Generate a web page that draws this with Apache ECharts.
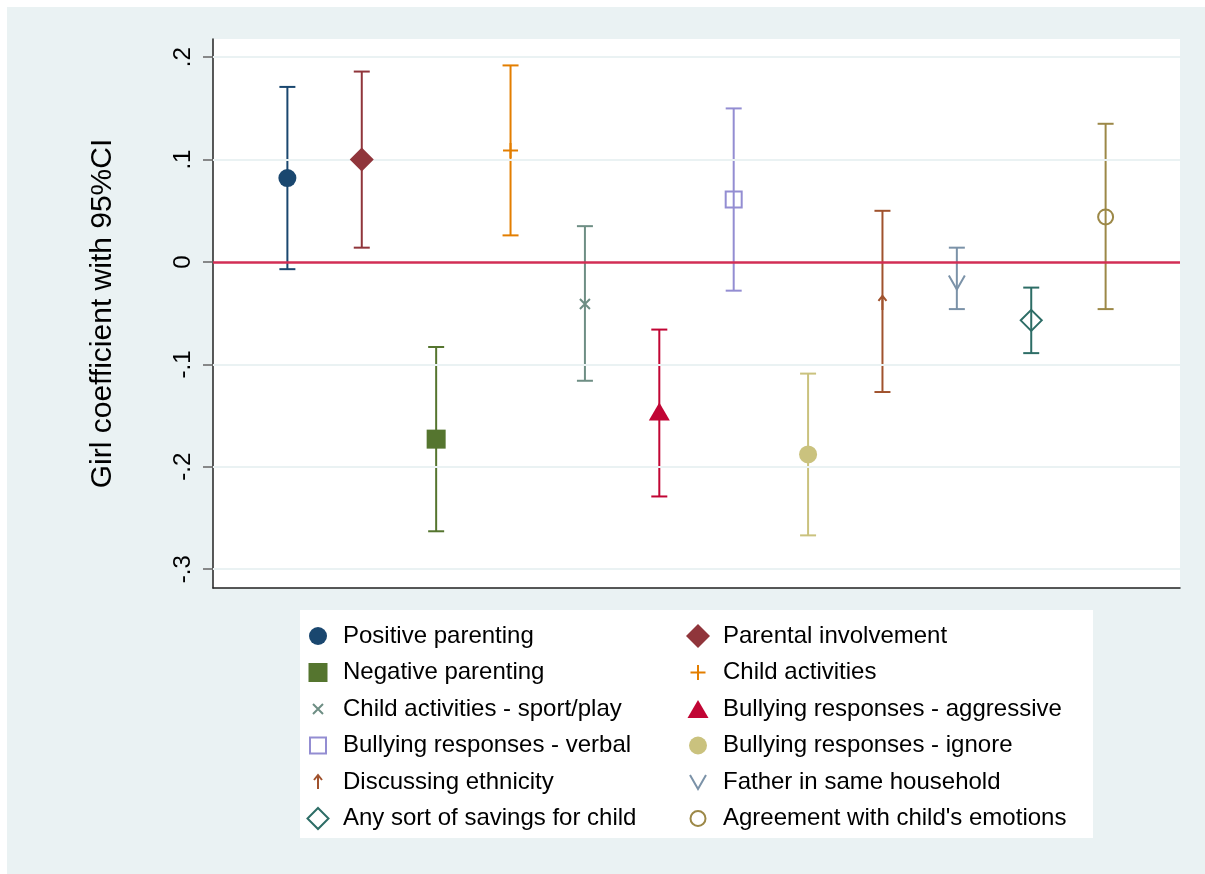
<!DOCTYPE html>
<html>
<head>
<meta charset="utf-8">
<script src="https://cdn.jsdelivr.net/npm/echarts@6/dist/echarts.min.js"></script>
<style>
  html, body { margin: 0; padding: 0; background: #ffffff; }
  #chart { position: absolute; left: 7px; top: 7px; width: 1198px; height: 867px; }
</style>
</head>
<body>
<div id="chart"></div>
<script>
// ---- data ----
const categories = [
  'Positive parenting', 'Parental involvement', 'Negative parenting', 'Child activities',
  'Child activities - sport/play', 'Bullying responses - aggressive', 'Bullying responses - verbal',
  'Bullying responses - ignore', 'Discussing ethnicity', 'Father in same household',
  'Any sort of savings for child', "Agreement with child's emotions"
];
const estimates = [0.082, 0.100, -0.173, 0.109, -0.041, -0.146, 0.061, -0.188, -0.040, -0.020, -0.057, 0.044];
const lowerCI   = [-0.007, 0.014, -0.263, 0.026, -0.116, -0.229, -0.028, -0.267, -0.127, -0.046, -0.089, -0.046];
const upperCI   = [0.171, 0.186, -0.083, 0.192, 0.035, -0.066, 0.150, -0.109, 0.050, 0.014, -0.025, 0.135];
const tickValues = [-0.3, -0.2, -0.1, 0, 0.1, 0.2];
const tickLabels = ['-.3', '-.2', '-.1', '0', '.1', '.2'];
const yTitle = 'Girl coefficient with 95%CI';

// ---- styles ----
const colors = ['#1a476f', '#90353b', '#55752f', '#e37e00', '#6e8e84', '#c10534',
                '#938dd2', '#cac27e', '#a0522d', '#7b92a8', '#2d6d66', '#9c8847'];
const PAD = 'M0,0L0,0M26,26L26,26';
const shapes = [
  { p: 'M4,13A9,9,0,1,1,22,13A9,9,0,1,1,4,13Z', fill: true },          // filled circle
  { p: 'M13,1L25,13L13,25L1,13Z', fill: true },                          // filled diamond
  { p: 'M3.5,3.5L22.5,3.5L22.5,22.5L3.5,22.5Z', fill: true },            // filled square
  { p: 'M5.5,13L20.5,13M13,5.5L13,20.5', fill: false },                  // plus
  { p: 'M8,8L18,18M18,8L8,18', fill: false },                            // x
  { p: 'M13,4L23.5,22L2.5,22Z', fill: true },                            // triangle
  { p: 'M5,5L21,5L21,21L5,21Z', fill: false },                           // hollow square
  { p: 'M4,13A9,9,0,1,1,22,13A9,9,0,1,1,4,13Z', fill: true },            // filled circle
  { p: 'M13,20L13,7M9,11L13,6L17,11', fill: false },                     // arrow
  { p: 'M5,6L13,20L21,6', fill: false },                                 // V
  { p: 'M13,2.5L23.5,13L13,23.5L2.5,13Z', fill: false },                 // hollow diamond
  { p: 'M5.5,13A7.5,7.5,0,1,1,20.5,13A7.5,7.5,0,1,1,5.5,13Z', fill: false } // hollow circle
];
const sym = i => 'path://' + PAD + shapes[i].p;

const FONT = '"Liberation Sans", Arial, sans-serif';

const chart = echarts.init(document.getElementById('chart'), null, { renderer: 'canvas' });

const ciData = categories.map((c, i) => [i + 1, lowerCI[i], upperCI[i], i]);

const series = [];
// grid lines
series.push({
  type: 'line', data: [], silent: true, z: 1,
  markLine: {
    silent: true, symbol: 'none', label: { show: false },
    lineStyle: { color: '#eaf2f3', width: 2, type: 'solid' },
    data: tickValues.filter(v => v !== 0).map(v => ({ yAxis: v }))
  }
});
// CI bars
series.push({
  type: 'custom', name: 'CI', silent: true, z: 3,
  data: ciData,
  encode: { x: 0, y: [1, 2] },
  renderItem: function (params, api) {
    const x = api.value(0), lo = api.value(1), hi = api.value(2), idx = api.value(3);
    const pLo = api.coord([x, lo]);
    const pHi = api.coord([x, hi]);
    const hw = 8;
    const style = { stroke: colors[idx], lineWidth: 2, fill: null };
    return {
      type: 'group',
      children: [
        { type: 'line', shape: { x1: pLo[0], y1: pLo[1], x2: pHi[0], y2: pHi[1] }, style: style },
        { type: 'line', shape: { x1: pLo[0] - hw, y1: pLo[1], x2: pLo[0] + hw, y2: pLo[1] }, style: style },
        { type: 'line', shape: { x1: pHi[0] - hw, y1: pHi[1], x2: pHi[0] + hw, y2: pHi[1] }, style: style }
      ]
    };
  }
});
// zero line
series.push({
  type: 'line', data: [], silent: true, z: 4,
  markLine: {
    silent: true, symbol: 'none', label: { show: false },
    lineStyle: { color: '#d22e55', width: 2.5, type: 'solid' },
    data: [{ yAxis: 0 }]
  }
});
// point estimates
categories.forEach((name, i) => {
  series.push({
    type: 'scatter', name: name, z: 5, silent: true,
    symbol: sym(i), symbolSize: 26,
    itemStyle: shapes[i].fill
      ? { color: colors[i], opacity: 1 }
      : { color: 'rgba(0,0,0,0)', borderColor: colors[i], borderWidth: 2, opacity: 1 },
    data: [[i + 1, estimates[i]]]
  });
});

const legendCommon = {
  orient: 'vertical', top: 614, padding: 0,
  itemWidth: 40, itemHeight: 26, itemGap: 6.5,
  symbolKeepAspect: true, selectedMode: false,
  textStyle: { fontFamily: FONT, fontSize: 24, lineHeight: 30, color: '#000' }
};

chart.setOption({
  backgroundColor: '#eaf2f3',
  animation: false,
  textStyle: { fontFamily: FONT },
  grid: {
    left: 206, top: 32, right: 25, bottom: 286,
    containLabel: false, outerBoundsMode: 'none',
    show: true, backgroundColor: '#ffffff', borderWidth: 0
  },
  graphic: [{
    type: 'rect', left: 293, top: 603, silent: true, z: -1,
    shape: { width: 793, height: 228 },
    style: { fill: '#ffffff' }
  }],
  xAxis: {
    type: 'value', min: 0, max: 13,
    axisLine: { show: true, onZero: false, lineStyle: { color: '#222', width: 1.5 } },
    axisTick: { show: false }, axisLabel: { show: false }, splitLine: { show: false }
  },
  yAxis: {
    type: 'value', min: -0.3184, max: 0.2178,
    name: yTitle, nameLocation: 'middle', nameRotate: 90, nameGap: 95,
    nameTextStyle: { fontFamily: FONT, fontSize: 30, color: '#000' },
    axisLine: { show: true, onZero: false, lineStyle: { color: '#222', width: 1.5 } },
    axisTick: { show: true, length: 10, customValues: tickValues, lineStyle: { color: '#666', width: 1.5 } },
    axisLabel: {
      show: true, rotate: 90, margin: 18, customValues: tickValues,
      fontFamily: FONT, fontSize: 24, color: '#000',
      formatter: v => { const k = tickValues.findIndex(t => Math.abs(t - v) < 1e-9); return k >= 0 ? tickLabels[k] : ''; }
    },
    splitLine: { show: false }
  },
  legend: [
    Object.assign({}, legendCommon, { left: 297, data: categories.filter((c, i) => i % 2 === 0).map(n => ({ name: n, icon: sym(categories.indexOf(n)) })) }),
    Object.assign({}, legendCommon, { left: 677, data: categories.filter((c, i) => i % 2 === 1).map(n => ({ name: n, icon: sym(categories.indexOf(n)) })) })
  ],
  series: series
});
</script>
</body>
</html>
